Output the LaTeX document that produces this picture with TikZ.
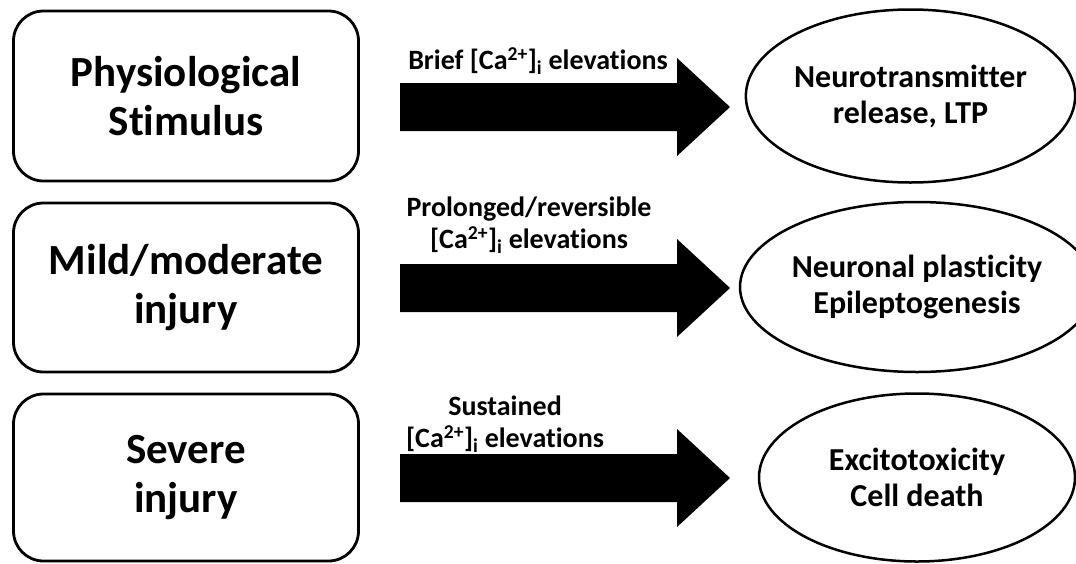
\documentclass[tikz,border=0pt]{standalone}
\usepackage{fontspec}
\setmainfont[Ligatures=NoCommon]{Carlito}
\usetikzlibrary{shapes.geometric}
\newcommand{\cai}{[Ca\textsuperscript{2+}]\textsubscript{i}}
\begin{document}
\begin{tikzpicture}[x=1pt,y=-1pt,
  causebox/.style={draw=black, line width=2.8pt, rounded corners=30pt, fill=white,
    minimum width=345pt, inner sep=0pt, align=center,
    font=\fontsize{43}{49}\selectfont\bfseries},
  effectell/.style={draw=black, line width=2.5pt, ellipse, fill=white, inner sep=0pt, align=center,
    font=\fontsize{32}{36}\selectfont\bfseries},
  arrowlabel/.style={align=center, inner sep=0pt, font=\fontsize{28}{32}\selectfont\bfseries}]
\useasboundingbox (0,0) rectangle (1076,563);
\fill[white] (0,0) rectangle (1076,563);

\node[causebox, minimum height=170pt] (c1) at (186,96) {Physiological\\Stimulus};
\node[causebox, minimum height=169pt] (c2) at (186,287.5) {Mild/moderate\\injury};
\node[causebox, minimum height=167pt] (c3) at (186,477.5) {Severe\\injury};

\node[effectell, minimum width=328pt, minimum height=173pt] (e1) at (910.5,96) {Neurotransmitter\\release, LTP};
\node[effectell, minimum width=318pt, minimum height=170pt] (e2) at (917,287) {Neuronal plasticity\\Epileptogenesis};
\node[effectell, minimum width=316pt, minimum height=168pt] (e3) at (917,477.5) {Excitotoxicity\\Cell death};

\newcommand{\blockarrow}[1]{%
  \fill[black] (400,#1-24) -- (677,#1-24) -- (677,#1-49) -- (730,#1) -- (677,#1+49) -- (677,#1+24) -- (400,#1+24) -- cycle;}
\blockarrow{107}
\blockarrow{288}
\blockarrow{478}

\node[arrowlabel] (l1) at (538,61) {Brief \cai{} elevations};
\node[arrowlabel] (l2) at (529,225) {Prolonged/reversible\\\cai{} elevations};
\node[arrowlabel] (l3) at (505,424) {Sustained\\\cai{} elevations};
\end{tikzpicture}
\end{document}
